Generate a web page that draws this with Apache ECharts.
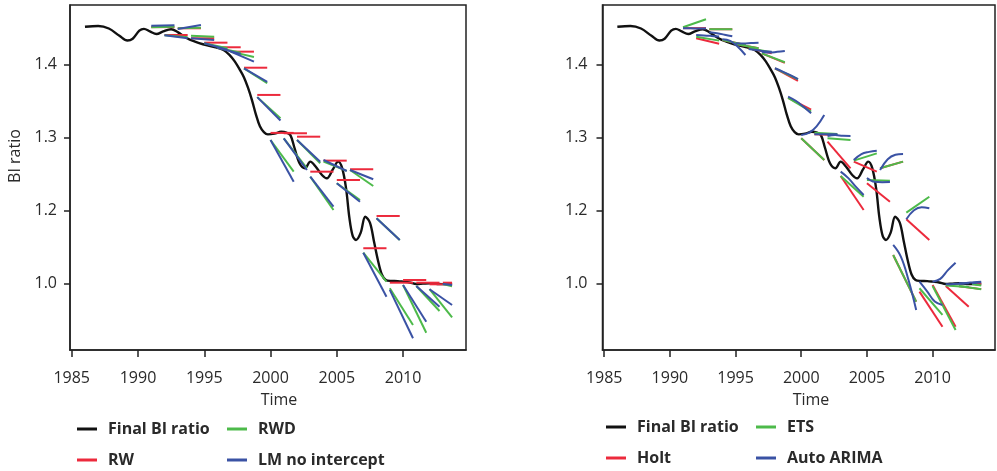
<!DOCTYPE html>
<html>
<head>
<meta charset="utf-8">
<script src="https://cdn.jsdelivr.net/npm/echarts@6/dist/echarts.min.js"></script>
<style>
  html, body { margin: 0; padding: 0; background: #fff; }
  #chart { width: 997px; height: 471px; }
</style>
</head>
<body>
<div id="chart"></div>
<script>
// Final BI ratio (year, value)
const biYears = [1986.0, 1987.0, 1987.8, 1988.6, 1989.2, 1989.6, 1990.1, 1990.45, 1990.9, 1991.4,
  1991.9, 1992.5, 1993.0, 1993.7, 1994.3, 1994.9, 1995.7, 1996.45, 1996.9, 1997.3,
  1997.7, 1998.0, 1998.3, 1998.6, 1998.9, 1999.2, 1999.5, 1999.8, 2000.3, 2000.8,
  2001.2, 2001.5, 2001.8, 2002.2, 2002.6, 2003.0, 2003.4, 2003.9, 2004.25, 2004.7,
  2005.1, 2005.4, 2005.7, 2005.95, 2006.2, 2006.45, 2006.8, 2007.15, 2007.5, 2007.8,
  2008.1, 2008.4, 2008.7, 2009.1, 2009.6, 2010.0, 2010.5, 2011.0, 2011.5, 2012.0,
  2012.6, 2013.2, 2013.7];
const biValues = [1.4515, 1.4525, 1.4490, 1.4390, 1.4325, 1.4350, 1.4460, 1.4485, 1.4450, 1.4415,
  1.4450, 1.4480, 1.4440, 1.4356, 1.4310, 1.4274, 1.4240, 1.4196, 1.4130, 1.4040,
  1.3920, 1.3820, 1.3680, 1.3510, 1.3310, 1.3150, 1.3070, 1.3040, 1.3050, 1.3075,
  1.3065, 1.3030, 1.2860, 1.2640, 1.2575, 1.2666, 1.2600, 1.2480, 1.2438, 1.2560,
  1.2666, 1.2580, 1.2300, 1.1900, 1.1650, 1.1593, 1.1690, 1.1912, 1.1830, 1.1580,
  1.1320, 1.1120, 1.1045, 1.1032, 1.1030, 1.1022, 1.1010, 1.0990, 1.0995, 1.1000,
  1.0990, 1.0988, 1.0986];

// Forecast origins and horizon (years)
const origins = [1991, 1992, 1993, 1994, 1995, 1996, 1997, 1998, 1999, 2000, 2001, 2002,
  2003, 2004, 2005, 2006, 2007, 2008, 2009, 2010, 2011, 2012, 2013];
const horizon = 1.75;
const lastYear = 2013.7;

// Left panel: RW (level), RWD and LM no intercept (start, end)
const rwLevel = [1.4509, 1.4401, 1.4493, 1.4356, 1.4296, 1.4233, 1.4173, 1.3953, 1.3580, 1.3060,
  1.3055, 1.3008, 1.2529, 1.2680, 1.2415, 1.2562, 1.1480, 1.1922, 1.1008, 1.1045, 1.1008,
  1.0986, 1.1008];
const rwdPaths = [[1.4507, 1.4515], [1.4397, 1.4370], [1.4493, 1.4501], [1.4392, 1.4378],
  [1.4288, 1.4219], [1.4227, 1.4159], [1.4173, 1.4100], [1.3945, 1.3740], [1.3550, 1.3260],
  [1.2963, 1.2529], [1.2986, 1.2575], [1.2963, 1.2644], [1.2460, 1.2004], [1.2666, 1.2540],
  [1.2370, 1.2140], [1.2552, 1.2333], [1.1419, 1.1022], [1.1890, 1.1593], [1.0932, 1.0429],
  [1.0977, 1.0323], [1.0963, 1.0620], [1.0920, 1.0534], [1.0990, 1.0960]];
const lmPaths = [[1.4529, 1.4535], [1.4397, 1.4356], [1.4484, 1.4538], [1.4356, 1.4333],
  [1.4288, 1.4200], [1.4227, 1.4140], [1.4173, 1.4036], [1.3945, 1.3760], [1.3550, 1.3230],
  [1.2963, 1.2392], [1.2986, 1.2552], [1.2963, 1.2666], [1.2460, 1.2050], [1.2689, 1.2538],
  [1.2370, 1.2118], [1.2552, 1.2425], [1.1419, 1.0816], [1.1890, 1.1593], [1.0910, 1.0247],
  [1.0977, 1.0474], [1.0963, 1.0680], [1.0918, 1.0703], [1.0990, 1.0975]];

// Right panel: Holt and ETS (start, end), Auto ARIMA (four steps)
const holtPaths = [[1.4495, 1.4495], [1.4356, 1.4282], [1.4480, 1.4480], [1.4333, 1.4264],
  [1.4279, 1.4220], [1.4219, 1.4150], [1.4150, 1.4020], [1.3945, 1.3772], [1.3540, 1.3380],
  [1.2986, 1.2689], [1.3040, 1.3030], [1.2940, 1.2575], [1.2470, 1.2004], [1.2666, 1.2529],
  [1.2370, 1.2118], [1.2575, 1.2666], [1.1387, 1.0749], [1.1877, 1.1593], [1.0885, 1.0405],
  [1.0977, 1.0405], [1.0963, 1.0680], [1.0960, 1.0920], [1.1000, 1.0990]];
const etsPaths = [[1.4507, 1.4616], [1.4378, 1.4324], [1.4480, 1.4480], [1.4333, 1.4264],
  [1.4279, 1.4220], [1.4219, 1.4165], [1.4150, 1.4027], [1.3945, 1.3795], [1.3540, 1.3350],
  [1.2986, 1.2689], [1.3063, 1.3045], [1.2986, 1.2963], [1.2470, 1.2186], [1.2680, 1.2780],
  [1.2415, 1.2406], [1.2575, 1.2666], [1.1387, 1.0749], [1.1967, 1.2186], [1.0932, 1.0566],
  [1.0963, 1.0360], [1.0970, 1.0950], [1.0963, 1.0918], [1.0990, 1.0970]];
const arimaPaths = [[1.4493, 1.4493, 1.4490, 1.4490], [1.4400, 1.4395, 1.4388, 1.4380],
  [1.4440, 1.4425, 1.4405, 1.4383], [1.4342, 1.4320, 1.4240, 1.4127],
  [1.4288, 1.4285, 1.4290, 1.4296], [1.4210, 1.4195, 1.4180, 1.4170],
  [1.4173, 1.4160, 1.4170, 1.4182], [1.3945, 1.3900, 1.3850, 1.3795],
  [1.3558, 1.3500, 1.3420, 1.3330], [1.3032, 1.3060, 1.3150, 1.3305],
  [1.3040, 1.3040, 1.3040, 1.3040], [1.3018, 1.3030, 1.3020, 1.3018],
  [1.2529, 1.2440, 1.2320, 1.2210], [1.2689, 1.2770, 1.2800, 1.2817],
  [1.2443, 1.2390, 1.2385, 1.2387], [1.2552, 1.2700, 1.2760, 1.2771],
  [1.1525, 1.1365, 1.1045, 1.0634], [1.1877, 1.2000, 1.2040, 1.2027],
  [1.1022, 1.0890, 1.0750, 1.0703], [1.1022, 1.1060, 1.1180, 1.1282],
  [1.0985, 1.0990, 1.0995, 1.1000], [1.1000, 1.1005, 1.1015, 1.1022],
  [1.1000, 1.1005, 1.1010, 1.1015]];

// Axis ticks
const xTickValues = [1985, 1990, 1995, 2000, 2005, 2010];
const yTickValues = [1.1, 1.2, 1.3, 1.4];
const yTickLabels = ['1.0', '1.2', '1.3', '1.4'];

const COLORS = { final: '#111111', red: '#ec2a3c', green: '#4dba4a', blue: '#3a52a4' };
const FONT = 'Open Sans';
const INK = '#2a2a2a';

const chart = echarts.init(document.getElementById('chart'), null, { renderer: 'canvas' });

function xAxisFor(gridIndex) {
  return {
    type: 'value', gridIndex, min: 1984.87, max: 2014.75,
    axisLine: { show: true, lineStyle: { color: '#222', width: 1.5 } },
    splitLine: { show: false },
    axisTick: { show: true, customValues: xTickValues, length: 7, lineStyle: { color: '#222', width: 1.5 } },
    axisLabel: { customValues: xTickValues, margin: 20, fontSize: 16, fontFamily: FONT, color: INK,
      formatter: v => String(Math.round(v)) }
  };
}
function yAxisFor(gridIndex, margin) {
  return {
    type: 'value', gridIndex, min: 1.0086, max: 1.4812,
    axisLine: { show: true, lineStyle: { color: '#222', width: 1.5 } },
    splitLine: { show: false },
    axisTick: { show: true, customValues: yTickValues, length: 6, lineStyle: { color: '#222', width: 1.5 } },
    axisLabel: { customValues: yTickValues, margin, fontSize: 16, fontFamily: FONT, color: INK,
      formatter: v => {
        const i = yTickValues.findIndex(t => Math.abs(t - v) < 1e-6);
        return i >= 0 ? yTickLabels[i] : '';
      } }
  };
}

function finalSeries(idx) {
  return {
    type: 'line', name: 'Final BI ratio', xAxisIndex: idx, yAxisIndex: idx,
    data: biYears.map((y, i) => [y, biValues[i]]),
    symbol: 'none', smooth: 0.35, z: 2,
    lineStyle: { color: COLORS.final, width: 2.4 }, itemStyle: { color: COLORS.final }
  };
}

// One short line per forecast origin; all share the model's name in the legend
function forecastSeries(name, color, idx, paths, z) {
  return origins.map((t, i) => {
    const end = Math.min(t + horizon, lastYear);
    const vals = paths[i];
    const n = vals.length - 1;
    return {
      type: 'line', name, xAxisIndex: idx, yAxisIndex: idx,
      data: vals.map((v, k) => [t + (end - t) * k / n, v]),
      symbol: 'none', smooth: n > 1 ? 0.4 : false, z,
      lineStyle: { color, width: 2 }, itemStyle: { color }
    };
  });
}

function legendAt(name, left, top) {
  return {
    data: [name], left, top, padding: 0, selectedMode: false,
    icon: 'rect', itemWidth: 20, itemHeight: 3,
    textStyle: { fontFamily: FONT, fontWeight: 'bold', fontSize: 16, color: INK,
      lineHeight: 20, padding: [0, 0, 0, 6] }
  };
}

const series = [
  finalSeries(0),
  ...forecastSeries('RW', COLORS.red, 0, rwLevel.map(v => [v, v]), 3),
  ...forecastSeries('RWD', COLORS.green, 0, rwdPaths, 4),
  ...forecastSeries('LM no intercept', COLORS.blue, 0, lmPaths, 5),
  finalSeries(1),
  ...forecastSeries('Holt', COLORS.red, 1, holtPaths, 3),
  ...forecastSeries('ETS', COLORS.green, 1, etsPaths, 4),
  ...forecastSeries('Auto ARIMA', COLORS.blue, 1, arimaPaths, 5)
];

chart.setOption({
  animation: false,
  backgroundColor: '#ffffff',
  grid: [
    { left: 70, top: 5, width: 396, height: 345, show: true, borderColor: '#222', borderWidth: 1.5 },
    { left: 602.5, top: 5, width: 392.5, height: 345, show: true, borderColor: '#222', borderWidth: 1.5 }
  ],
  xAxis: [xAxisFor(0), xAxisFor(1)],
  yAxis: [yAxisFor(0, 13), yAxisFor(1, 15)],
  legend: [
    legendAt('Final BI ratio', 77, 419),
    legendAt('RWD', 227, 419),
    legendAt('RW', 77, 450),
    legendAt('LM no intercept', 227, 450),
    legendAt('Final BI ratio', 606, 417),
    legendAt('ETS', 756, 417),
    legendAt('Holt', 606, 448),
    legendAt('Auto ARIMA', 756, 448)
  ],
  graphic: [
    { type: 'text', x: 279, y: 400, style: { text: 'Time', fontFamily: FONT, fontSize: 16,
      fill: INK, textAlign: 'center', textVerticalAlign: 'middle' } },
    { type: 'text', x: 811, y: 400, style: { text: 'Time', fontFamily: FONT, fontSize: 16,
      fill: INK, textAlign: 'center', textVerticalAlign: 'middle' } },
    { type: 'text', x: 15, y: 156, rotation: Math.PI / 2, style: { text: 'BI ratio', fontFamily: FONT,
      fontSize: 16, fill: INK, textAlign: 'center', textVerticalAlign: 'middle' } }
  ],
  series
});
</script>
</body>
</html>
